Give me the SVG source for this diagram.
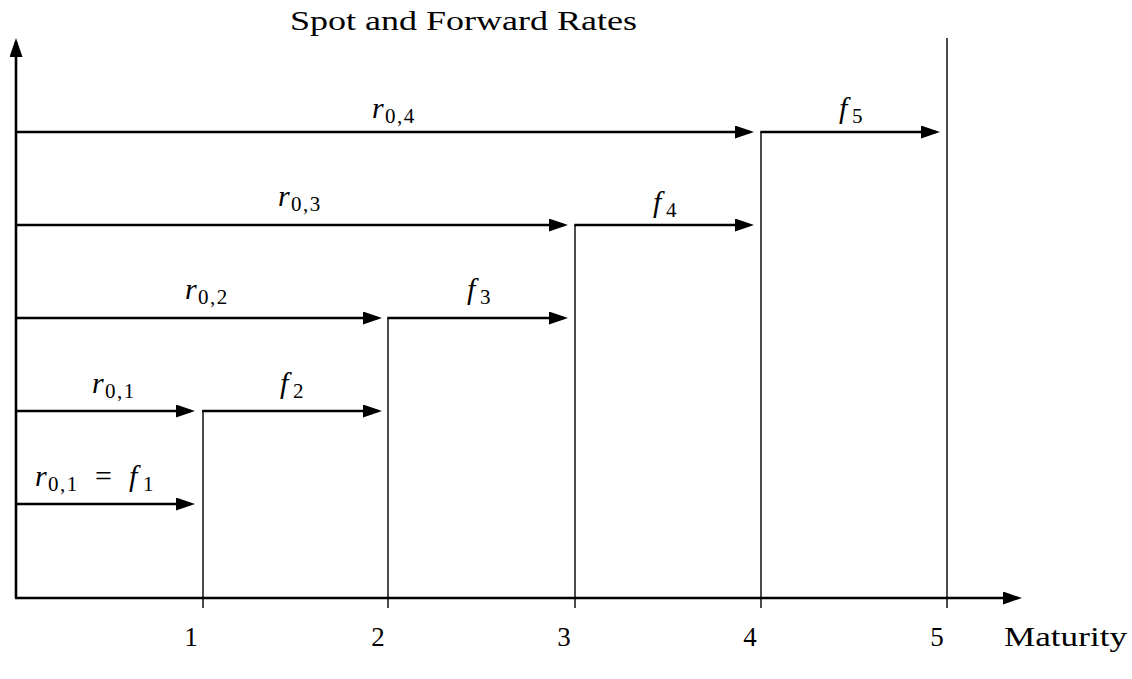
<svg xmlns="http://www.w3.org/2000/svg" width="1132" height="679" viewBox="0 0 1132 679">
  <style>
    .arr { stroke: #000; stroke-width: 2.6; fill: none; marker-end: url(#ah); }
    .vl { stroke: #000; stroke-width: 1.4; fill: none; }
    .txt { font-family: "Liberation Serif", "DejaVu Serif", serif; fill: #000; }
    .title { font-size: 28px; }
    .num { font-size: 27px; }
    .m { font-family: "Liberation Serif", "DejaVu Serif", serif; font-style: italic; font-size: 30px; fill: #000; }
    .sub { font-style: normal; font-size: 21px; letter-spacing: 1.5px; }
    .eq { font-style: normal; font-size: 30px; }
  </style>
  <defs>
    <marker id="ah" markerUnits="userSpaceOnUse" markerWidth="20" markerHeight="14" refX="15" refY="6.5" orient="auto">
      <path d="M0,0 L19,6.5 L0,13 z" fill="#000"/>
    </marker>
  </defs>
  <rect width="1132" height="679" fill="#fff"/>

  <g id="title">
    <text class="txt title" x="290" y="30" textLength="347" lengthAdjust="spacingAndGlyphs">Spot and Forward Rates</text>
  </g>

  <g id="axes">
    <line class="arr" x1="16" y1="598" x2="16" y2="42"/>
    <line class="arr" x1="15" y1="598" x2="1018" y2="598"/>
  </g>

  <g id="maturity-lines">
    <line class="vl" x1="203" y1="410" x2="203" y2="608"/>
    <line class="vl" x1="388" y1="318" x2="388" y2="608"/>
    <line class="vl" x1="575" y1="225" x2="575" y2="608"/>
    <line class="vl" x1="761" y1="132" x2="761" y2="608"/>
    <line class="vl" x1="947" y1="38" x2="947" y2="608"/>
  </g>

  <g id="connectors">
    <line class="arr" x1="16" y1="504" x2="191" y2="504"/>
    <line class="arr" x1="16" y1="411" x2="191" y2="411"/>
    <line class="arr" x1="202.3" y1="411" x2="378" y2="411"/>
    <line class="arr" x1="16" y1="318" x2="378" y2="318"/>
    <line class="arr" x1="387.3" y1="318" x2="564" y2="318"/>
    <line class="arr" x1="16" y1="225" x2="564" y2="225"/>
    <line class="arr" x1="574.3" y1="225" x2="750" y2="225"/>
    <line class="arr" x1="16" y1="132" x2="750" y2="132"/>
    <line class="arr" x1="760.3" y1="132" x2="936" y2="132"/>
  </g>

  <g id="rate-labels">
    <text class="m" x="372" y="118">r<tspan class="sub" x="385" dy="5">0,4</tspan></text>
    <text class="m" x="278" y="206">r<tspan class="sub" x="291" dy="5">0,3</tspan></text>
    <text class="m" x="185" y="299">r<tspan class="sub" x="198" dy="5">0,2</tspan></text>
    <text class="m" x="92" y="393">r<tspan class="sub" x="105" dy="5">0,1</tspan></text>
    <text class="m" x="35" y="486">r<tspan class="sub" x="48" dy="5">0,1</tspan><tspan class="eq" x="95" dy="-5">=</tspan><tspan x="129">f</tspan><tspan class="sub" x="143" dy="5">1</tspan></text>
    <text class="m" x="280" y="393">f<tspan class="sub" x="293" dy="5">2</tspan></text>
    <text class="m" x="467" y="299">f<tspan class="sub" x="480" dy="5">3</tspan></text>
    <text class="m" x="653" y="212">f<tspan class="sub" x="666" dy="5">4</tspan></text>
    <text class="m" x="839" y="118">f<tspan class="sub" x="852" dy="5">5</tspan></text>
  </g>

  <g id="tick-labels">
    <text class="txt num" x="191" y="646" text-anchor="middle">1</text>
    <text class="txt num" x="378" y="646" text-anchor="middle">2</text>
    <text class="txt num" x="564" y="646" text-anchor="middle">3</text>
    <text class="txt num" x="750" y="646" text-anchor="middle">4</text>
    <text class="txt num" x="937" y="646" text-anchor="middle">5</text>
    <text class="txt num" x="1004" y="646" textLength="123" lengthAdjust="spacingAndGlyphs">Maturity</text>
  </g>
</svg>
